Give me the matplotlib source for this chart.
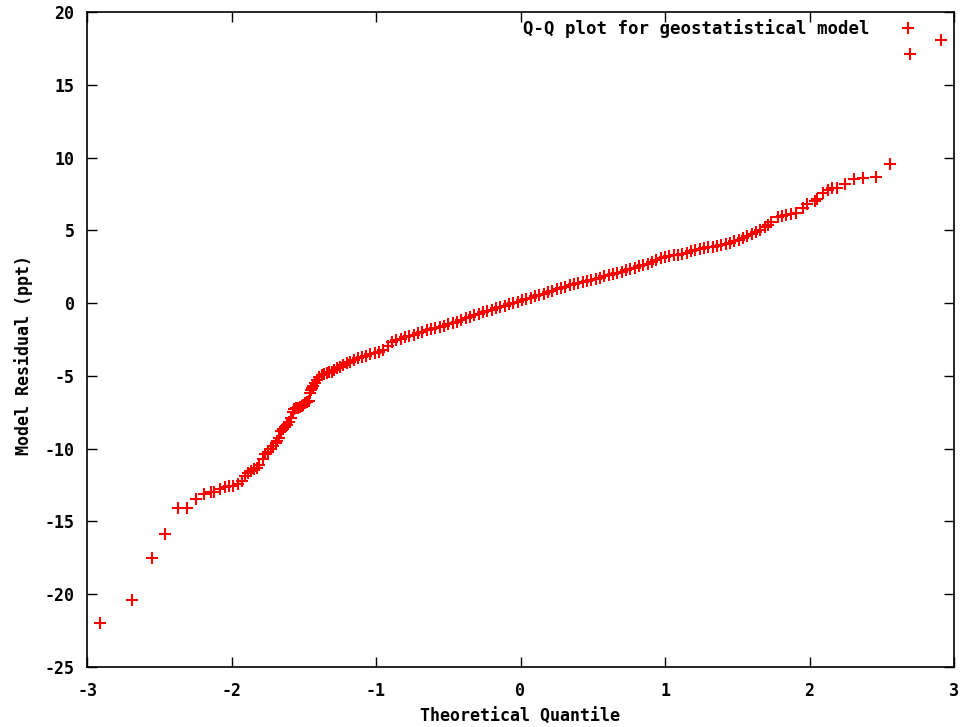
import matplotlib

matplotlib.use("Agg")
import matplotlib.pyplot as plt

# theoretical quantile (x) and sorted model residual (y)
quantile = [
    -2.91, -2.689, -2.550, -2.458, -2.370, -2.306, -2.246, -2.190, -2.144, -2.121,
    -2.080, -2.047, -2.015, -1.992, -1.955, -1.930, -1.907, -1.885, -1.865, -1.845,
    -1.826, -1.808, -1.785, -1.768, -1.748, -1.728, -1.711, -1.695, -1.683, -1.669,
    -1.655, -1.646, -1.630, -1.614, -1.600, -1.588, -1.575, -1.565, -1.552, -1.542,
    -1.528, -1.514, -1.502, -1.491, -1.478, -1.464, -1.457, -1.450, -1.445, -1.433,
    -1.422, -1.406, -1.392, -1.376, -1.360, -1.341, -1.325, -1.307, -1.290, -1.272,
    -1.250, -1.226, -1.203, -1.180, -1.150, -1.122,
    -1.10, -1.07, -1.04, -1.01, -0.98, -0.95, -0.92, -0.89, -0.86, -0.83,
    -0.80, -0.77, -0.74, -0.71, -0.68, -0.65, -0.62, -0.59, -0.56, -0.53,
    -0.50, -0.47, -0.44, -0.41, -0.38, -0.35, -0.32, -0.29, -0.26, -0.23,
    -0.20, -0.17, -0.14, -0.11, -0.08, -0.05, -0.02, 0.01, 0.04, 0.07,
    0.10, 0.13, 0.16, 0.19, 0.22, 0.25, 0.28, 0.31, 0.34, 0.37,
    0.40, 0.43, 0.46, 0.49, 0.52, 0.55, 0.58, 0.61, 0.64, 0.67,
    0.70, 0.73, 0.76, 0.79, 0.82, 0.85, 0.88, 0.91, 0.94, 0.97,
    1.00, 1.03, 1.06, 1.09, 1.12, 1.15, 1.18, 1.21, 1.24, 1.27,
    1.30, 1.33, 1.36, 1.39, 1.42, 1.45, 1.48, 1.51, 1.54, 1.57,
    1.60, 1.63, 1.66, 1.69, 1.71,
    1.734, 1.784, 1.807, 1.837, 1.870, 1.907, 1.957, 1.985, 2.038, 2.054,
    2.091, 2.130, 2.154, 2.188, 2.246, 2.308, 2.372, 2.460, 2.557, 2.695,
    2.91,
]
residual = [
    -21.95, -20.4, -17.53, -15.88, -14.1, -14.1, -13.46, -13.09, -13.0, -12.95,
    -12.77, -12.63, -12.59, -12.55, -12.41, -12.25, -11.85, -11.65, -11.53, -11.42,
    -11.30, -11.15, -10.70, -10.38, -10.20, -10.0, -9.84, -9.60, -9.45, -9.29,
    -8.80, -8.65, -8.52, -8.35, -8.15, -7.91, -7.45, -7.27, -7.22, -7.18,
    -7.12, -7.07, -6.98, -6.88, -6.80, -6.70, -6.20, -6.00, -5.85, -5.68,
    -5.51, -5.28, -5.10, -4.94, -4.86, -4.78, -4.74, -4.71, -4.60, -4.48,
    -4.37, -4.25, -4.14, -4.02, -3.90, -3.79,
    -3.72, -3.62, -3.52, -3.43, -3.35, -3.22, -2.95, -2.70, -2.54, -2.45,
    -2.36, -2.27, -2.19, -2.08, -1.98, -1.88, -1.79, -1.70, -1.62, -1.55,
    -1.46, -1.37, -1.27, -1.16, -1.05, -0.94, -0.83, -0.73, -0.64, -0.55,
    -0.46, -0.37, -0.27, -0.18, -0.06, 0.02, 0.10, 0.18, 0.27, 0.36,
    0.46, 0.56, 0.66, 0.75, 0.84, 0.94, 1.03, 1.12, 1.22, 1.31,
    1.38, 1.45, 1.53, 1.60, 1.67, 1.75, 1.83, 1.91, 1.99, 2.08,
    2.17, 2.25, 2.34, 2.44, 2.53, 2.62, 2.72, 2.84, 2.96, 3.10,
    3.18, 3.24, 3.29, 3.33, 3.40, 3.47, 3.56, 3.65, 3.74, 3.80,
    3.84, 3.88, 3.93, 3.98, 4.04, 4.12, 4.24, 4.34, 4.44, 4.60,
    4.77, 4.88, 5.03, 5.20, 5.35,
    5.59, 5.89, 5.98, 6.05, 6.12, 6.21, 6.51, 6.81, 7.02, 7.13,
    7.54, 7.77, 7.93, 7.89, 8.16, 8.51, 8.58, 8.69, 9.56, 17.11,
    18.08,
]

x_ticks = [-3, -2, -1, 0, 1, 2, 3]
y_ticks = [-25, -20, -15, -10, -5, 0, 5, 10, 15, 20]

plt.rcParams['font.family'] = ['DejaVu Sans Mono']
plt.rcParams['font.weight'] = 'bold'

fig = plt.figure(figsize=(9.79, 7.27), dpi=100)
ax = fig.add_axes([87 / 979, 60 / 727, 867 / 979, 655 / 727])

ax.plot(quantile, residual, linestyle='none', marker='+', markersize=8.5,
        markeredgewidth=1.5, color='#ff0000',
        label='Q-Q plot for geostatistical model')

ax.set_xlim(-3, 3)
ax.set_ylim(-25, 20)
ax.set_xticks(x_ticks)
ax.set_yticks(y_ticks)
ax.set_xticklabels([str(t) for t in x_ticks])
ax.set_yticklabels([str(t) for t in y_ticks])

ax.tick_params(direction='in', length=7, width=1, top=True, right=True,
               labelsize=12, pad=9, colors='black')
ax.tick_params(axis='x', pad=11)
for s in ax.spines.values():
    s.set_linewidth(1.2)

ax.set_xlabel('Theoretical Quantile', fontsize=12, fontweight='bold')
ax.set_ylabel('Model Residual (ppt)', fontsize=12, fontweight='bold')
ax.xaxis.set_label_coords(0.5, -0.062)
ax.yaxis.set_label_coords(-0.062, 0.476)

leg = ax.legend(loc='upper right', bbox_to_anchor=(0.9666, 0.989), frameon=False,
                markerfirst=False, handlelength=2.0, handletextpad=1.2,
                borderaxespad=0, borderpad=0, fontsize=12.5)

fig.savefig('out.png', dpi=100)
